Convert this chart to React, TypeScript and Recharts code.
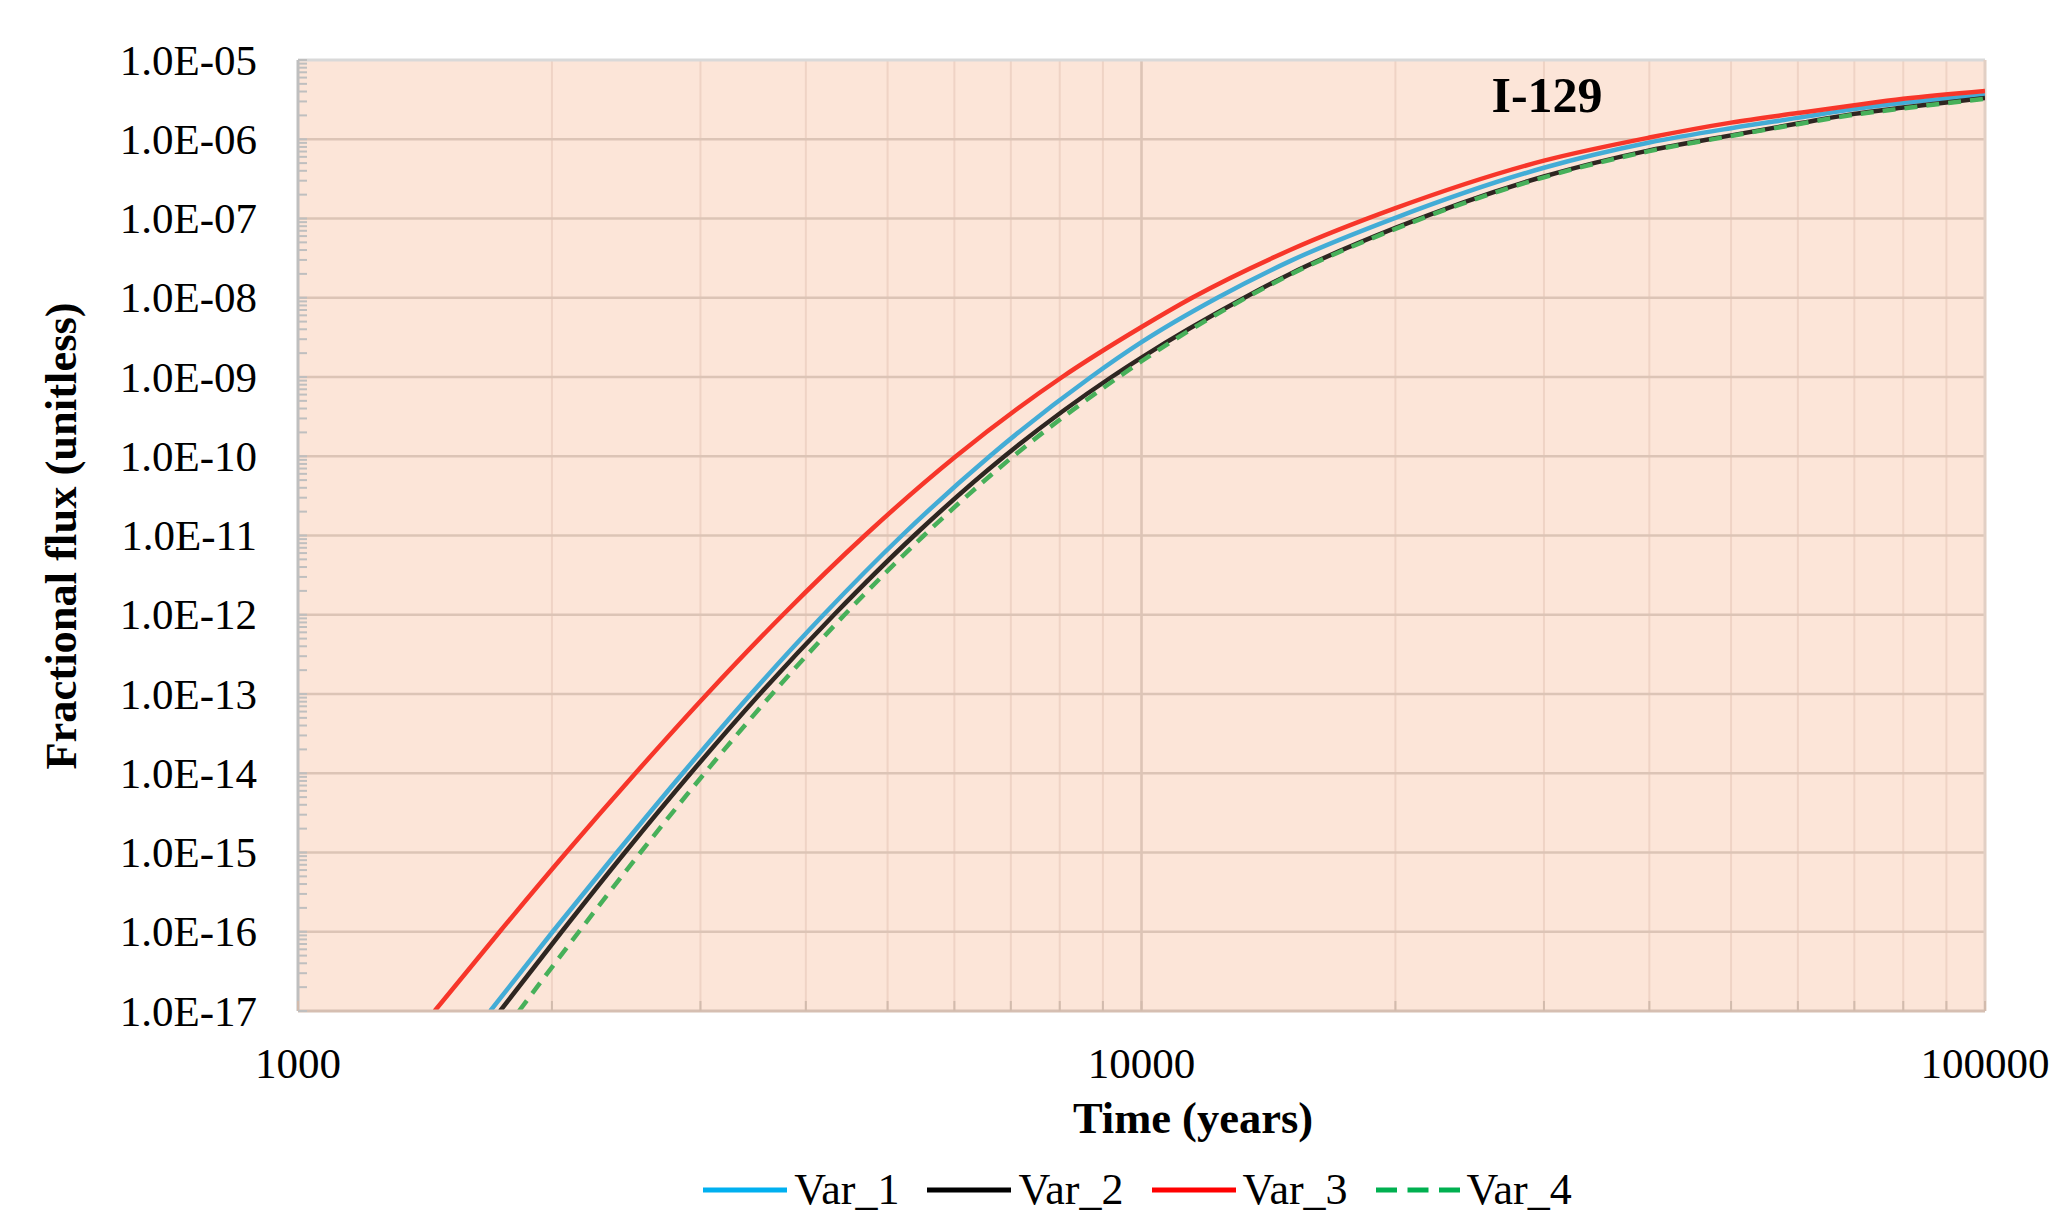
import React from "react";
import {
  LineChart,
  Line,
  XAxis,
  YAxis,
  CartesianGrid,
  ReferenceLine,
  Legend
} from "recharts";

// time (years) and fractional flux
const var1Time = [1690, 2004, 2388, 2858, 3443, 4198, 5200, 6607, 8710, 10000, 12303, 15000, 20000, 30000, 40000, 50000, 60000, 70000, 80000, 100000];
const var1Flux = [1e-17, 1e-16, 1e-15, 1e-14, 1e-13, 1e-12, 1e-11, 1e-10, 1e-9, 2.75e-9, 1e-8, 2.9e-8, 1.02e-7, 4.37e-7, 9.1e-7, 1.38e-6, 1.86e-6, 2.4e-6, 2.88e-6, 3.63e-6];

const var2Time = [1736, 2054, 2441, 2921, 3528, 4320, 5377, 6879, 9215, 10000, 13243, 15000, 20000, 30000, 40000, 50000, 60000, 70000, 80000, 100000];
const var2Flux = [1e-17, 1e-16, 1e-15, 1e-14, 1e-13, 1e-12, 1e-11, 1e-10, 1e-9, 1.76e-9, 1e-8, 2.0e-8, 7.6e-8, 3.39e-7, 7.24e-7, 1.12e-6, 1.58e-6, 2.09e-6, 2.51e-6, 3.31e-6];

const var3Time = [1452, 1734, 2080, 2512, 3055, 3758, 4699, 6026, 8054, 10000, 11482, 15000, 20000, 30000, 40000, 50000, 60000, 70000, 80000, 100000];
const var3Flux = [1e-17, 1e-16, 1e-15, 1e-14, 1e-13, 1e-12, 1e-11, 1e-10, 1e-9, 4.27e-9, 1e-8, 4.0e-8, 1.35e-7, 5.37e-7, 1.05e-6, 1.62e-6, 2.14e-6, 2.69e-6, 3.24e-6, 4.07e-6];

const var4Time = [1828, 2153, 2547, 3034, 3648, 4446, 5521, 7047, 9397, 10000, 13305, 15000, 20000, 30000, 40000, 50000, 60000, 70000, 80000, 100000];
const var4Flux = [1e-17, 1e-16, 1e-15, 1e-14, 1e-13, 1e-12, 1e-11, 1e-10, 1e-9, 1.58e-9, 1e-8, 1.95e-8, 7.4e-8, 3.31e-7, 7.08e-7, 1.1e-6, 1.55e-6, 2.04e-6, 2.45e-6, 3.24e-6];

const xMajor = [1000, 10000, 100000];
const yMajor = [1e-17, 1e-16, 1e-15, 1e-14, 1e-13, 1e-12, 1e-11, 1e-10, 1e-9, 1e-8, 1e-7, 1e-6, 1e-5];

// minor log ticks (2..9) between majors
const withMinors = (majors: number[]) => {
  const out: number[] = [];
  majors.forEach((m, i) => {
    out.push(m);
    if (i < majors.length - 1) for (let k = 2; k <= 9; k++) out.push(m * k);
  });
  return out;
};
const xTicks = withMinors(xMajor);
const yTicks = withMinors(yMajor);

const toRows = (t: number[], f: number[]) => t.map((time, i) => ({ time, flux: f[i] }));

const series = [
  { name: "Var_1", data: toRows(var1Time, var1Flux), color: "#43acd6", legend: "#00b0f0", dash: undefined },
  { name: "Var_2", data: toRows(var2Time, var2Flux), color: "#2e2621", legend: "#000000", dash: undefined },
  { name: "Var_3", data: toRows(var3Time, var3Flux), color: "#f7362a", legend: "#ff0000", dash: undefined },
  { name: "Var_4", data: toRows(var4Time, var4Flux), color: "#47b05a", legend: "#00b050", dash: "13 9" }
];

const FONT = '"Liberation Serif", "Times New Roman", serif';

const isMajor = (v: number) => {
  const e = Math.round(Math.log10(v));
  return Math.abs(v / Math.pow(10, e) - 1) < 1e-6;
};

const sciLabel = (v: number) => {
  const e = Math.round(Math.log10(v));
  return `1.0E${e < 0 ? "-" : "+"}${String(Math.abs(e)).padStart(2, "0")}`;
};

const YTick = (props: any) => {
  const { x, y, payload } = props;
  const v = payload.value;
  const ax = x + 41;
  return (
    <g>
      <line x1={ax} x2={ax + 9} y1={y} y2={y} stroke="#bfbfbf" strokeWidth={2} />
      {isMajor(v) && (
        <text x={x} y={y} dy="0.34em" textAnchor="end" fontFamily={FONT} fontSize={43} fill="#000">
          {sciLabel(v)}
        </text>
      )}
    </g>
  );
};

const XTick = (props: any) => {
  const { x, y, payload } = props;
  const v = payload.value;
  const ay = y - 52;
  return (
    <g>
      <line x1={x} x2={x} y1={ay} y2={ay - 10} stroke="#d2bbad" strokeWidth={2} />
      {isMajor(v) && (
        <text x={x} y={y} dy="0.34em" textAnchor="middle" fontFamily={FONT} fontSize={43} fill="#000">
          {v}
        </text>
      )}
    </g>
  );
};

const renderLegend = () => (
  <div
    style={{
      display: "flex",
      justifyContent: "center",
      alignItems: "center",
      fontFamily: FONT,
      fontSize: 44,
      lineHeight: "52px",
      color: "#000"
    }}
  >
    {series.map((s, i) => (
      <div key={s.name} style={{ display: "flex", alignItems: "center", marginLeft: i ? 28 : 0 }}>
        <svg width={84} height={10} style={{ marginRight: 7 }}>
          <line x1={0} x2={84} y1={5} y2={5} stroke={s.legend} strokeWidth={5} strokeDasharray={s.dash ? "21 10.5" : undefined} />
        </svg>
        <span>{s.name}</span>
      </div>
    ))}
  </div>
);

const titleStyle = {
  position: "absolute" as const,
  fontFamily: FONT,
  fontWeight: "bold" as const,
  lineHeight: 1,
  whiteSpace: "nowrap" as const
};

export default function App() {
  return (
    <div style={{ position: "absolute", left: 0, top: 0, width: 2060, height: 1212, background: "#fff", overflow: "hidden" }}>
      <LineChart width={2060} height={1212} margin={{ top: 60, right: 75, bottom: 141, left: 0 }}>
        <CartesianGrid horizontal={false} stroke="#efd3c5" strokeWidth={2} fill="#fce5d8" />
        <XAxis
          dataKey="time"
          type="number"
          scale="log"
          domain={[1000, 100000]}
          allowDataOverflow
          ticks={xTicks}
          interval={0}
          height={60}
          tickSize={0}
          tickMargin={52}
          tick={<XTick />}
          axisLine={{ stroke: "#d6bfb2", strokeWidth: 3 }}
          tickLine={false}
        />
        <YAxis
          dataKey="flux"
          type="number"
          scale="log"
          domain={[1e-17, 1e-5]}
          allowDataOverflow
          ticks={yTicks}
          interval={0}
          width={298}
          tickSize={0}
          tickMargin={41}
          tick={<YTick />}
          axisLine={{ stroke: "#bfbfbf", strokeWidth: 3 }}
          tickLine={false}
        />
        {yMajor.slice(1, -1).map((v) => (
          <ReferenceLine key={v} y={v} stroke="#dcc4b6" strokeWidth={2.5} />
        ))}
        <ReferenceLine x={10000} stroke="#dcc4b6" strokeWidth={2.5} />
        <ReferenceLine y={1e-5} stroke="#d9d9d9" strokeWidth={3} />
        <ReferenceLine x={100000} stroke="#e2cfc4" strokeWidth={3} />
        {series.map((s) => (
          <Line
            key={s.name}
            data={s.data}
            dataKey="flux"
            name={s.name}
            type="monotone"
            stroke={s.color}
            strokeWidth={4.5}
            strokeDasharray={s.dash}
            dot={false}
            activeDot={false}
            isAnimationActive={false}
          />
        ))}
        <Legend
          layout="horizontal"
          align="center"
          verticalAlign="middle"
          content={renderLegend}
          wrapperStyle={{ left: 294, top: 1164, width: 1687 }}
        />
      </LineChart>
      <div style={{ ...titleStyle, left: 1547, top: 70, transform: "translateX(-50%)", fontSize: 50 }}>I-129</div>
      <div style={{ ...titleStyle, left: 1193, top: 1096, transform: "translateX(-50%)", fontSize: 44.5 }}>
        Time (years)
      </div>
      <div
        style={{
          ...titleStyle,
          left: 61,
          top: 536,
          transform: "translate(-50%, -50%) rotate(-90deg)",
          fontSize: 44.5
        }}
      >
        Fractional flux (unitless)
      </div>
    </div>
  );
}
